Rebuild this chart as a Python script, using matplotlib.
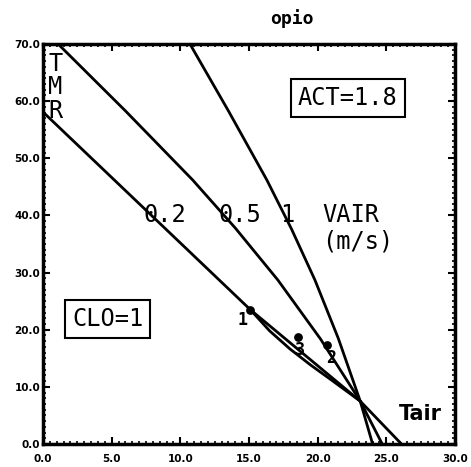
import matplotlib
matplotlib.use("Agg")
import matplotlib.pyplot as plt
from matplotlib.ticker import MultipleLocator, FormatStrFormatter

# ---- data (Tair, TMR) ----
v02_x = [0.0, 15.1, 23.1, 26.1]
v02_y = [58.1, 23.5, 7.5, 0.0]

v02b_x = [15.1, 16.5, 18.0, 19.5, 21.0, 23.1]
v02b_y = [23.5, 19.8, 16.6, 13.8, 11.2, 7.5]

v05_x = [1.1, 6.0, 10.9, 14.0, 17.1, 20.2, 23.1, 24.7]
v05_y = [70.0, 58.3, 46.2, 37.8, 28.7, 18.4, 7.5, 0.0]

v1_x = [10.7, 13.5, 16.3, 18.1, 19.8, 21.5, 23.1, 24.0]
v1_y = [70.0, 58.3, 46.2, 37.6, 28.7, 18.5, 7.5, 0.0]

pts_x = [15.1, 18.6, 20.7]
pts_y = [23.5, 18.7, 17.3]
pts_lab = ["1", "3", "2"]

vair_labels = ["0.2", "0.5", "1"]

W, H = 471, 467
fig = plt.figure(figsize=(W / 100, H / 100), dpi=100)
ax = fig.add_axes([43 / W, 1 - 444 / H, (455 - 43) / W, (444 - 44) / H])
ax.set_xlim(0, 30)
ax.set_ylim(0, 70)

lw = 2.0
for xs, ys in [(v02_x, v02_y), (v02b_x, v02b_y), (v05_x, v05_y), (v1_x, v1_y)]:
    ax.plot(xs, ys, color="black", lw=lw, solid_joinstyle="round", clip_on=True)

ax.scatter(pts_x, pts_y, s=28, color="black", zorder=5)
lab_off = [(-0.6, -1.8), (0.1, -2.3), (0.3, -2.3)]
for (x, y, t), (dx, dy) in zip(zip(pts_x, pts_y, pts_lab), lab_off):
    ax.text(x + dx, y + dy, t, ha="center", va="center", fontsize=12,
            fontweight="bold", family="DejaVu Sans Mono")

for sp in ax.spines.values():
    sp.set_linewidth(2.5)

ax.xaxis.set_major_locator(MultipleLocator(5))
ax.xaxis.set_minor_locator(MultipleLocator(0.5))
ax.yaxis.set_major_locator(MultipleLocator(10))
ax.yaxis.set_minor_locator(MultipleLocator(1))
ax.xaxis.set_major_formatter(FormatStrFormatter("%.1f"))
ax.yaxis.set_major_formatter(FormatStrFormatter("%.1f"))
ax.tick_params(which="major", direction="in", length=5, width=1.5,
               top=True, right=True, labelsize=7.5)
ax.tick_params(axis="x", which="major", pad=7)
ax.tick_params(axis="y", which="major", pad=2)
ax.tick_params(which="minor", direction="in", length=2.5, width=1.2,
               top=True, right=True)
for lab in ax.get_xticklabels() + ax.get_yticklabels():
    lab.set_fontweight("bold")
    lab.set_family("DejaVu Sans")

fs = 17
mono = "DejaVu Sans Mono"
for i, ch in enumerate("TMR"):
    ax.text(0.9, 66.5 - i * 4.1, ch, ha="center", va="center",
            fontsize=fs, family=mono)

ax.text(22.2, 60.6, "ACT=1.8", ha="center", va="center", fontsize=fs,
        family=mono,
        bbox=dict(boxstyle="square,pad=0.3", fc="white", ec="black", lw=1.5))
ax.text(4.7, 21.9, "CLO=1", ha="center", va="center", fontsize=fs,
        family=mono,
        bbox=dict(boxstyle="square,pad=0.3", fc="white", ec="black", lw=1.5))

for (x, t) in zip([8.9, 14.3, 17.8], vair_labels):
    ax.text(x, 40.0, t, ha="center", va="center", fontsize=fs, family=mono)
ax.text(22.4, 40.0, "VAIR", ha="center", va="center", fontsize=fs, family=mono)
ax.text(22.9, 35.5, "(m/s)", ha="center", va="center", fontsize=fs, family=mono)
ax.text(27.45, 5.2, "Tair", ha="center", va="center", fontsize=15,
        fontweight="bold", family="DejaVu Sans")

fig.text(292 / W, 1 - 19 / H, "opio", ha="center", va="center", fontsize=13,
         fontweight="bold", family=mono)

fig.savefig("out.png", dpi=100)
